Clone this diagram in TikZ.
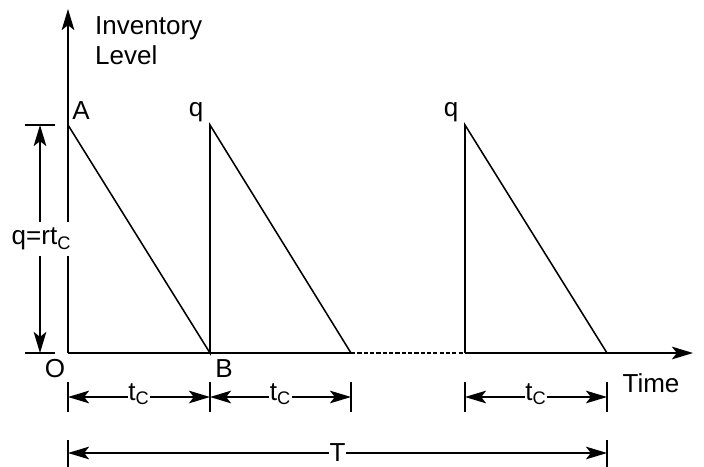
\documentclass[tikz,border=0pt]{standalone}
\usepackage{fontspec}
\setmainfont{Liberation Sans}
\usetikzlibrary{arrows.meta}
\begin{document}
\begin{tikzpicture}[x=0.025cm, y=-0.025cm, line width=1.1pt,
  every node/.style={font=\fontsize{18.5}{21.5}\selectfont, inner sep=1pt},
  dimline/.style={{Stealth[length=15pt,width=9pt,inset=3.5pt]}-{Stealth[length=15pt,width=9pt,inset=3.5pt]}},
  axisline/.style={-{Stealth[length=15pt,width=9pt,inset=3.5pt]}},
  dimlabel/.style={fill=white, inner sep=0.5pt}]
\useasboundingbox (0,0) rectangle (704,467);
% Axes
\coordinate (O) at (68,353);
\coordinate (Ytip) at (68,9);
\coordinate (Xtip) at (693,353);
\coordinate (A) at (68,125);
\coordinate (B) at (210,353);
\coordinate (Q1) at (210,125);
\coordinate (C1) at (351,353);
\coordinate (D1) at (465,353);
\coordinate (Q2) at (465,125);
\coordinate (C2) at (607,353);
\draw[axisline] (O) -- (Ytip);
\draw (O) -- (C1);
\draw[dashed, dash pattern=on 3pt off 1.5pt] (C1) -- (D1);
\draw[axisline] (D1) -- (Xtip);
% Saw teeth
\draw (A) -- (B) -- (Q1) -- (C1);
\draw (D1) -- (Q2) -- (C2);
% Labels
\node[anchor=north west, align=left] (ylab) at (93,14) {Inventory\\Level};
\node (lA) at (81,111) {A};
\node (lq1) at (196,112) {q};
\node (lq2) at (451,112) {q};
\node (lO) at (55,369) {O};
\node (lB) at (224,369) {B};
\node (lT) at (651,383) {Time};
% Height q
\coordinate (qt) at (40,125);
\coordinate (qb) at (40,353);
\draw (25,125) -- (55,125);
\draw (25,353) -- (55,353);
\draw[dimline] (qt) -- node[dimlabel, inner ysep=4pt, xshift=1pt] (lq) {q=rt\textsubscript{C}} (qb);
% Cycle times
\foreach \x in {68,210,351,465,607}
  \draw (\x,382) -- (\x,412);
\draw (68,440) -- (68,467);
\draw (607,440) -- (607,467);
\coordinate (t0) at (68,397);
\coordinate (t1) at (210,397);
\coordinate (t2) at (351,397);
\coordinate (t3) at (465,397);
\coordinate (t4) at (607,397);
\draw[dimline] (t0) -- node[dimlabel, yshift=2pt] (tc1) {t\textsubscript{C}} (t1);
\draw[dimline] (t1) -- node[dimlabel, yshift=2pt] (tc2) {t\textsubscript{C}} (t2);
\draw[dimline] (t3) -- node[dimlabel, yshift=2pt] (tc3) {t\textsubscript{C}} (t4);
% Total time
\coordinate (T0) at (68,453);
\coordinate (T1) at (607,453);
\draw[dimline] (T0) -- node[dimlabel, pos=0.5] (lTT) {T} (T1);
\end{tikzpicture}
\end{document}
